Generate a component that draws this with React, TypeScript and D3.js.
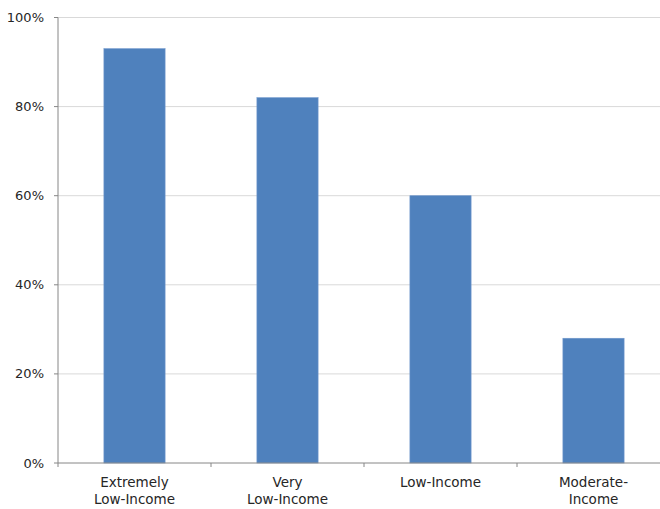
import React from "react";
import * as d3 from "d3";

const categories: string[][] = [
  ["Extremely", "Low-Income"],
  ["Very", "Low-Income"],
  ["Low-Income"],
  ["Moderate-", "Income"],
];
const values: number[] = [0.93, 0.82, 0.6, 0.28];
const yTicks: number[] = [0, 0.2, 0.4, 0.6, 0.8, 1.0];

const W = 660;
const H = 509;
const left = 58;
const top = 17.5;
const bottom = 463;
const rightRange = 670;

export default function App() {
  const x = d3
    .scaleBand<number>()
    .domain(d3.range(values.length))
    .range([left, rightRange])
    .paddingInner(0.6)
    .paddingOuter(0.3);
  const y = d3.scaleLinear().domain([0, 1]).range([bottom, top]);
  const step = x.step();
  const fmt = d3.format(".0%");
  const font = "'DejaVu Sans', sans-serif";

  return (
    <svg
      width={W}
      height={H}
      style={{ position: "absolute", left: 0, top: 0, background: "#fff" }}
    >
      {yTicks.map((t) => (
        <g key={t}>
          {t > 0 && (
            <line x1={left} x2={W} y1={y(t)} y2={y(t)} stroke="#d9d9d9" strokeWidth={1} />
          )}
          <line x1={left - 4} x2={left} y1={y(t)} y2={y(t)} stroke="#868686" />
          <text
            x={44}
            y={y(t)}
            dy="0.35em"
            textAnchor="end"
            fontFamily={font}
            fontSize={13}
            fill="#262626"
          >
            {fmt(t)}
          </text>
        </g>
      ))}
      {values.map((v, i) => (
        <rect
          key={i}
          x={x(i)}
          y={y(v)}
          width={x.bandwidth()}
          height={y(0) - y(v)}
          fill="#4f81bd"
          stroke="#6f97cc"
          strokeWidth={0.6}
        />
      ))}
      <line x1={left} x2={left} y1={top} y2={bottom} stroke="#868686" />
      <line x1={left} x2={W} y1={bottom} y2={bottom} stroke="#868686" />
      {d3.range(values.length + 1).map((i) => (
        <line
          key={i}
          x1={left + i * step}
          x2={left + i * step}
          y1={bottom}
          y2={bottom + 4}
          stroke="#868686"
        />
      ))}
      {categories.map((lines, i) => (
        <text
          key={i}
          x={(x(i) as number) + x.bandwidth() / 2}
          y={487}
          textAnchor="middle"
          fontFamily={font}
          fontSize={13.5}
          fill="#262626"
        >
          {lines.map((l, j) => (
            <tspan key={j} x={(x(i) as number) + x.bandwidth() / 2} dy={j === 0 ? 0 : 17}>
              {l}
            </tspan>
          ))}
        </text>
      ))}
    </svg>
  );
}
